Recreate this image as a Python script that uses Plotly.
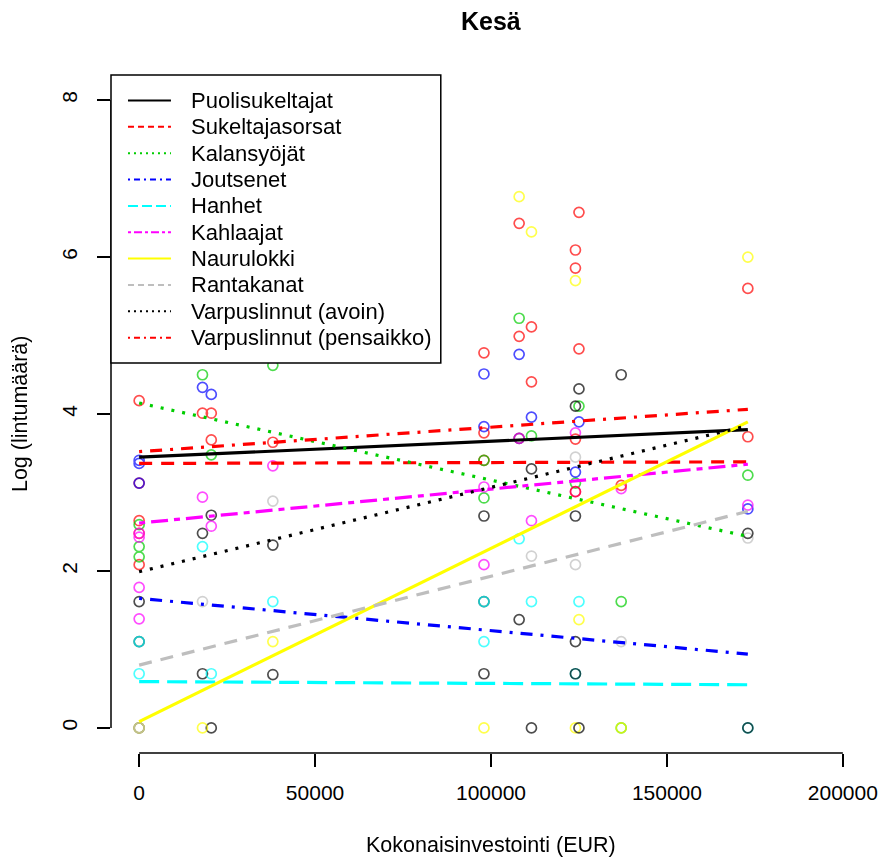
import plotly.graph_objects as go

# ---------------- data ----------------
species = ["Puolisukeltajat", "Sukeltajasorsat", "Kalansyöjät", "Joutsenet", "Hanhet",
           "Kahlaajat", "Naurulokki", "Rantakanat", "Varpuslinnut (avoin)", "Varpuslinnut (pensaikko)"]
colors = ["#000000", "#FF0000", "#00CD00", "#0000FF", "#00FFFF",
          "#FF00FF", "#FFFF00", "#BEBEBE", "#000000", "#FF0000"]
dashes = ["solid", "13px,9px", "3px,8px", "3px,8px,12px,8px", "20px,8px",
          "6px,6px,17px,6px", "solid", "13px,9px", "3px,8px", "3px,8px,12px,8px"]
legend_dashes = ["solid", "6px,4px", "2px,4px", "2px,4px,6px,4px", "10px,4px",
                 "3px,3px,8px,3px", "solid", "6px,4px", "2px,4px", "2px,4px,6px,4px"]

# observed points (investment EUR, log count) per species
pts_puoli = [(0, 1.61), (0, 1.10), (0, 0), (18000, 2.48), (18000, 0.69), (20500, 2.71), (20500, 0),
             (38000, 2.33), (38000, 0.68), (98000, 2.70), (98000, 1.61), (98000, 0.69),
             (108000, 3.69), (108000, 1.38), (111500, 3.30), (111500, 0)]
pts_sukelt = [(0, 4.17), (0, 3.12), (0, 2.64), (0, 2.48), (0, 2.08), (18000, 4.78), (18000, 4.01),
              (20500, 4.01), (20500, 3.67), (38000, 5.89), (38000, 3.64), (98000, 4.78),
              (98000, 3.76), (98000, 3.41), (108000, 6.43), (108000, 4.99)]
pts_kalan = [(0, 2.59), (0, 2.31), (0, 2.18), (18000, 4.50), (20500, 3.48), (38000, 4.62),
             (98000, 3.41), (98000, 2.93), (108000, 5.22), (111500, 3.72), (124000, 3.12),
             (125000, 4.10), (137000, 1.61), (137000, 0), (173000, 3.22)]
pts_joutsen = [(0, 3.41), (0, 3.37), (0, 3.12), (18000, 4.34), (20500, 4.25), (38000, 4.77),
               (98000, 4.51), (98000, 3.84), (108000, 4.76), (111500, 3.96), (125000, 3.90),
               (124000, 3.26), (173000, 2.79)]
pts_hanhet = [(0, 0.69), (0, 1.10), (18000, 2.31), (20500, 0.69), (38000, 1.61), (98000, 1.61),
              (98000, 1.10), (108000, 2.41), (111500, 1.61), (124000, 0.69), (125000, 1.61),
              (173000, 0)]
pts_kahlaa = [(0, 2.48), (0, 2.43), (0, 1.79), (0, 1.39), (18000, 2.94), (20500, 2.57),
              (38000, 3.34), (98000, 3.07), (98000, 2.08), (108000, 3.69), (111500, 2.64),
              (124000, 3.76), (124000, 3.01), (137000, 3.05), (173000, 2.84)]
pts_naurul = [(0, 0), (18000, 0), (38000, 1.10), (98000, 0), (108000, 6.77), (111500, 6.32),
              (124000, 5.70), (124000, 0), (125000, 1.38), (137000, 0), (173000, 6.00)]
pts_ranta = [(0, 0), (18000, 1.61), (38000, 2.89), (111500, 2.19), (124000, 3.45),
             (124000, 2.08), (137000, 1.10), (173000, 2.42)]
pts_varp_a = [(124000, 4.10), (124000, 2.70), (124000, 1.10), (124000, 0.69), (125000, 4.32),
              (125000, 0), (137000, 4.50), (173000, 2.48), (173000, 0)]
pts_varp_p = [(111500, 5.11), (111500, 4.41), (124000, 6.09), (124000, 5.86), (124000, 3.68),
              (124000, 3.01), (125000, 6.57), (125000, 4.83), (137000, 3.09), (173000, 5.60),
              (173000, 3.71)]
points = [pts_puoli, pts_sukelt, pts_kalan, pts_joutsen, pts_hanhet,
          pts_kahlaa, pts_naurul, pts_ranta, pts_varp_a, pts_varp_p]

# fitted regression lines: value at lowest and highest investment
fit_start = [3.45, 3.37, 4.14, 1.65, 0.59, 2.61, 0.08, 0.80, 1.99, 3.52]
fit_end = [3.80, 3.39, 2.44, 0.94, 0.55, 3.36, 3.90, 2.76, 3.85, 4.06]

x_ticks = [0, 50000, 100000, 150000, 200000]
x_ticklabels = ["0", "50000", "100000", "150000", "200000"]
y_ticks = [0, 2, 4, 6, 8]
y_ticklabels = ["0", "2", "4", "6", "8"]

# ---------------- layout geometry ----------------
W, H = 882, 859
L, R, T, B = 111, 10.5, 75, 106
PW, PH = W - L - R, H - T - B
FONT = "Liberation Sans, Arial, sans-serif"


def px2x(px):
    return (px - L) / PW


def px2y(py):
    return 1 - (py - T) / PH


fig = go.Figure()

all_x = [p[0] for s in points for p in s]
x_lo, x_hi = min(all_x), max(all_x)

for name, col, pts in zip(species, colors, points):
    fig.add_trace(go.Scatter(
        x=[p[0] for p in pts], y=[p[1] for p in pts], mode="markers",
        marker=dict(symbol="circle-open", size=10, color=col, line=dict(width=1.7, color=col)),
        opacity=0.7, showlegend=False, hoverinfo="skip", name=name))

for name, col, dsh, a, b in zip(species, colors, dashes, fit_start, fit_end):
    fig.add_trace(go.Scatter(
        x=[x_lo, x_hi], y=[a, b], mode="lines",
        line=dict(color=col, width=3.2, dash=dsh), showlegend=False, name=name))

shapes = []
annotations = []

# axis lines (R style: from first to last tick)
shapes.append(dict(type="line", xref="x", yref="paper", x0=x_ticks[0], x1=x_ticks[-1], y0=0, y1=0,
                   line=dict(color="black", width=1.5)))
shapes.append(dict(type="line", xref="paper", yref="y", x0=0, x1=0, y0=y_ticks[0], y1=y_ticks[-1],
                   line=dict(color="black", width=1.5)))

# legend box
leg_left, leg_right, leg_top, leg_bottom = 111, 441, 75, 363
shapes.append(dict(type="rect", xref="paper", yref="paper",
                   x0=px2x(leg_left), x1=px2x(leg_right), y0=px2y(leg_bottom), y1=px2y(leg_top),
                   line=dict(color="black", width=1.5), fillcolor="white", layer="above"))
row0, row_step = 100.5, 26.35
for i, (name, col, dsh) in enumerate(zip(species, colors, legend_dashes)):
    yy = px2y(row0 + i * row_step)
    shapes.append(dict(type="line", xref="paper", yref="paper", x0=px2x(128), x1=px2x(171),
                       y0=yy, y1=yy, line=dict(color=col, width=2, dash=dsh), layer="above"))
    annotations.append(dict(text=name, xref="paper", yref="paper", x=px2x(189), y=yy,
                            xanchor="left", yanchor="middle", showarrow=False,
                            font=dict(family=FONT, size=22, color="black")))

# title and axis titles
annotations.append(dict(text="<b>Kesä</b>", xref="paper", yref="paper", x=px2x(491), y=px2y(21),
                        xanchor="center", yanchor="middle", showarrow=False,
                        font=dict(family=FONT, size=25, color="black")))
annotations.append(dict(text="Kokonaisinvestointi (EUR)", xref="paper", yref="paper",
                        x=px2x(491), y=px2y(845), xanchor="center", yanchor="middle",
                        showarrow=False, font=dict(family=FONT, size=21.5, color="black")))
annotations.append(dict(text="Log (lintumäärä)", xref="paper", yref="paper",
                        x=px2x(20), y=px2y(414), xanchor="center", yanchor="middle",
                        textangle=-90, showarrow=False,
                        font=dict(family=FONT, size=21.5, color="black")))

fig.update_layout(
    width=W, height=H, margin=dict(l=L, r=R, t=T, b=B, pad=0, autoexpand=False),
    paper_bgcolor="white", plot_bgcolor="white",
    shapes=shapes, annotations=annotations, showlegend=False,
    font=dict(family=FONT, size=21, color="black"),
    xaxis=dict(range=[-8000, 208000], showgrid=False, zeroline=False, showline=False,
               automargin=False,
               tickmode="array", tickvals=x_ticks, ticktext=x_ticklabels,
               ticks="outside", ticklen=13, tickwidth=1.5, tickcolor="black",
               ticklabelstandoff=8, tickfont=dict(family=FONT, size=21, color="black")),
    yaxis=dict(range=[-0.32, 8.32], showgrid=False, zeroline=False, showline=False,
               automargin=False,
               tickmode="array", tickvals=y_ticks, ticktext=y_ticklabels, tickangle=-90,
               ticks="outside", ticklen=13, tickwidth=1.5, tickcolor="black",
               ticklabelstandoff=12, tickfont=dict(family=FONT, size=21, color="black")),
)

fig.write_html("out.html", config={"displayModeBar": False},
               post_script="document.body.style.margin='0';document.body.style.overflow='hidden';")
